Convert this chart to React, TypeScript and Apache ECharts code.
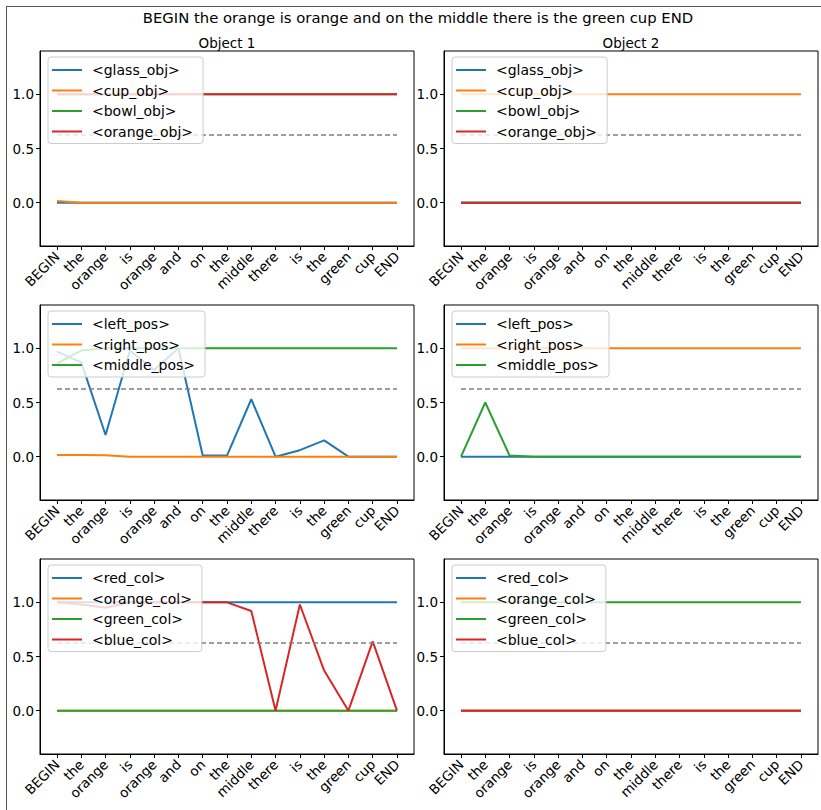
import React, { useEffect, useRef } from "react";
import * as echarts from "echarts";

const categories = ["BEGIN", "the", "orange", "is", "orange", "and", "on", "the", "middle", "there", "is", "the", "green", "cup", "END"];
const mainTitle = "BEGIN the orange is orange and on the middle there is the green cup END";
const columnTitles = ["Object 1", "Object 2"];
const threshold = 0.625;
const yTicks = [0, 0.5, 1.0];

const objNames = ["<glass_obj>", "<cup_obj>", "<bowl_obj>", "<orange_obj>"];
const posNames = ["<left_pos>", "<right_pos>", "<middle_pos>"];
const colNames = ["<red_col>", "<orange_col>", "<green_col>", "<blue_col>"];

// Object 1
const o1Glass = [0, 0, 0, 0, 0, 0, 0, 0, 0, 0, 0, 0, 0, 0, 0];
const o1Cup = [0.015, 0, 0, 0, 0, 0, 0, 0, 0, 0, 0, 0, 0, 0, 0];
const o1Bowl = [1, 1, 1, 1, 1, 1, 1, 1, 1, 1, 1, 1, 1, 1, 1];
const o1Orange = [1, 1, 1, 1, 1, 1, 1, 1, 1, 1, 1, 1, 1, 1, 1];
const o1Left = [0.97, 0.87, 0.2, 0.98, 0.8, 1.0, 0.01, 0.01, 0.53, 0.0, 0.06, 0.15, 0.0, 0.0, 0.0];
const o1Right = [0.015, 0.015, 0.012, 0, 0, 0, 0, 0, 0, 0, 0, 0, 0, 0, 0];
const o1Middle = [0.86, 0.98, 1.0, 1, 1, 1, 1, 1, 1, 1, 1, 1, 1, 1, 1];
const o1Red = [1, 1, 1, 1, 1, 1, 1, 1, 1, 1, 1, 1, 1, 1, 1];
const o1OrangeCol = [0, 0, 0, 0, 0, 0, 0, 0, 0, 0, 0, 0, 0, 0, 0];
const o1Green = [0, 0, 0, 0, 0, 0, 0, 0, 0, 0, 0, 0, 0, 0, 0];
const o1Blue = [1.0, 0.98, 0.95, 1.0, 1.0, 1.0, 1.0, 1.0, 0.92, 0.0, 0.98, 0.37, 0.0, 0.64, 0.0];

// Object 2
const o2Glass = [0, 0, 0, 0, 0, 0, 0, 0, 0, 0, 0, 0, 0, 0, 0];
const o2Cup = [1, 1, 1, 1, 1, 1, 1, 1, 1, 1, 1, 1, 1, 1, 1];
const o2Bowl = [0, 0, 0, 0, 0, 0, 0, 0, 0, 0, 0, 0, 0, 0, 0];
const o2Orange = [0, 0, 0, 0, 0, 0, 0, 0, 0, 0, 0, 0, 0, 0, 0];
const o2Left = [0, 0, 0, 0, 0, 0, 0, 0, 0, 0, 0, 0, 0, 0, 0];
const o2Right = [1, 1, 1, 1, 1, 1, 1, 1, 1, 1, 1, 1, 1, 1, 1];
const o2Middle = [0, 0.5, 0.01, 0, 0, 0, 0, 0, 0, 0, 0, 0, 0, 0, 0];
const o2Red = [0, 0, 0, 0, 0, 0, 0, 0, 0, 0, 0, 0, 0, 0, 0];
const o2OrangeCol = [0, 0, 0, 0, 0, 0, 0, 0, 0, 0, 0, 0, 0, 0, 0];
const o2Green = [1, 1, 1, 1, 1, 1, 1, 1, 1, 1, 1, 1, 1, 1, 1];
const o2Blue = [0, 0, 0, 0, 0, 0, 0, 0, 0, 0, 0, 0, 0, 0, 0];

const COLORS = ["#1f77b4", "#ff7f0e", "#2ca02c", "#d62728"];
const FONT = "DejaVu Sans";

const panels = [
  { names: objNames, data: [o1Glass, o1Cup, o1Bowl, o1Orange] },
  { names: objNames, data: [o2Glass, o2Cup, o2Bowl, o2Orange] },
  { names: posNames, data: [o1Left, o1Right, o1Middle] },
  { names: posNames, data: [o2Left, o2Right, o2Middle] },
  { names: colNames, data: [o1Red, o1OrangeCol, o1Green, o1Blue] },
  { names: colNames, data: [o2Red, o2OrangeCol, o2Green, o2Blue] },
];

const colLeft = [40, 444];
const rowTop = [51, 305, 559];
const gridW = 374;
const gridH = 195;

export default function App() {
  const ref = useRef<HTMLDivElement>(null);
  useEffect(() => {
    if (!ref.current) return;
    const chart = echarts.init(ref.current, null, { renderer: "svg" });
    const grids: any[] = [];
    const xAxes: any[] = [];
    const yAxes: any[] = [];
    const series: any[] = [];
    const legends: any[] = [];
    const idx = categories.map((_, i) => i);
    panels.forEach((p, k) => {
      const c = k % 2;
      const r = Math.floor(k / 2);
      grids.push({
        left: colLeft[c], top: rowTop[r], width: gridW, height: gridH,
        show: true, borderColor: "#000", borderWidth: 1, backgroundColor: "transparent",
      });
      xAxes.push({
        type: "value", gridIndex: k, min: -0.7, max: 14.7,
        axisLine: { show: true, onZero: false, lineStyle: { color: "#000", width: 1 } },
        splitLine: { show: false },
        axisTick: { show: true, customValues: idx, length: 4, lineStyle: { color: "#000" } },
        axisLabel: {
          customValues: idx, rotate: 45, margin: 8, fontSize: 13.5, fontFamily: FONT, color: "#000",
          formatter: (v: number) => categories[Math.round(v)] ?? "",
        },
      });
      yAxes.push({
        type: "value", gridIndex: k, min: -0.4, max: 1.4,
        axisLine: { show: true, onZero: false, lineStyle: { color: "#000", width: 1 } },
        splitLine: { show: false },
        axisTick: { show: true, customValues: yTicks, length: 4, lineStyle: { color: "#000" } },
        axisLabel: {
          customValues: yTicks, margin: 6, fontSize: 13.5, fontFamily: FONT, color: "#000",
          formatter: (v: number) => v.toFixed(1),
        },
      });
      p.data.forEach((arr, j) => {
        series.push({
          type: "line", name: p.names[j], xAxisIndex: k, yAxisIndex: k,
          data: arr.map((v, i) => [i, v]), showSymbol: false, symbol: "none",
          color: COLORS[j], lineStyle: { width: 2, color: COLORS[j] }, z: 2 + j * 0.01,
        });
      });
      series.push({
        type: "line", xAxisIndex: k, yAxisIndex: k,
        data: [[0, threshold], [14, threshold]], showSymbol: false, symbol: "none",
        lineStyle: { width: 1.5, color: "#7f7f7f", type: [5, 3] }, z: 3,
      });
      legends.push({
        data: p.names.map((n, j) => ({ name: n, itemStyle: { color: COLORS[j] } })),
        orient: "vertical",
        left: colLeft[c] + 8, top: rowTop[r] + 6,
        icon: "rect", itemWidth: 30, itemHeight: 2, itemGap: 4.5,
        backgroundColor: "rgba(255,255,255,0.8)",
        borderColor: "#cccccc", borderWidth: 1, borderRadius: 3,
        padding: [5, 10, 4, 4],
        selectedMode: false,
        textStyle: { fontSize: 14, fontFamily: FONT, color: "#000", padding: [0, 0, 0, 5], lineHeight: 16 },
      });
    });
    chart.setOption({
      animation: false,
      backgroundColor: "#fff",
      grid: grids,
      xAxis: xAxes,
      yAxis: yAxes,
      legend: legends,
      series,
      graphic: [
        { type: "line", shape: { x1: 6.5, y1: 6, x2: 6.5, y2: 810 }, style: { stroke: "#555", lineWidth: 1 } },
        { type: "line", shape: { x1: 6, y1: 6.5, x2: 821, y2: 6.5 }, style: { stroke: "#555", lineWidth: 1 } },
        { type: "text", x: 418, y: 17, style: { text: mainTitle, fontSize: 14.8, fontFamily: FONT, fill: "#000", textAlign: "center", textVerticalAlign: "middle" } },
        ...columnTitles.map((t, c) => ({
          type: "text", x: colLeft[c] + gridW / 2, y: 43,
          style: { text: t, fontSize: 13.5, fontFamily: FONT, fill: "#000", textAlign: "center", textVerticalAlign: "middle" },
        })),
      ],
    });
    return () => chart.dispose();
  }, []);
  return <div ref={ref} style={{ position: "fixed", left: 0, top: 0, width: 821, height: 810 }} />;
}
